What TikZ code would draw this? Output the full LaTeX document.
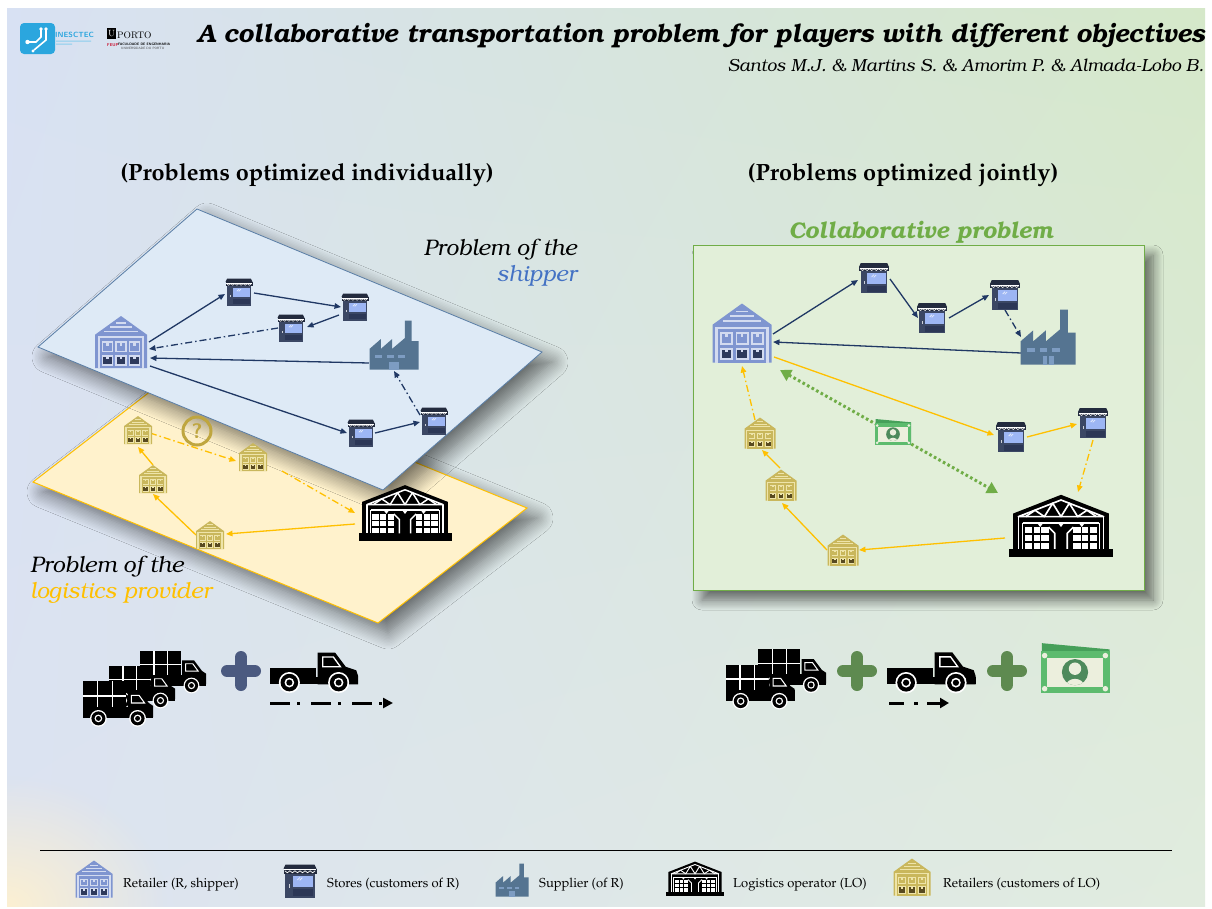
\documentclass[tikz,border=0pt]{standalone}
\usepackage[T1,TU]{fontenc}
\usetikzlibrary{arrows.meta,calc,shadows.blur,fadings,shadings}

% ---------- fonts ----------
\newcommand{\ttlfont}{\fontencoding{T1}\fontfamily{pbk}\fontseries{b}\fontshape{it}\selectfont}
\newcommand{\bkit}{\fontencoding{T1}\fontfamily{pbk}\fontseries{m}\fontshape{it}\selectfont}
\newcommand{\palup}{\fontencoding{T1}\fontfamily{ppl}\fontseries{m}\fontshape{n}\selectfont}
\newcommand{\palbf}{\fontencoding{T1}\fontfamily{ppl}\fontseries{b}\fontshape{n}\selectfont}

% ---------- colours ----------
\definecolor{bgUL}{HTML}{D8E1F3}
\definecolor{bgUR}{HTML}{D5E8C9}
\definecolor{bgLL}{HTML}{DCE3F1}
\definecolor{bgLR}{HTML}{E1ECDF}
\definecolor{glowY}{HTML}{FCF0D2}
\definecolor{planeB}{HTML}{DEEAF6}
\definecolor{planeBedge}{HTML}{5A7EA6}
\definecolor{planeY}{HTML}{FFF2CC}
\definecolor{planeYedge}{HTML}{FFC000}
\definecolor{boxG}{HTML}{E2EFD9}
\definecolor{boxGedge}{HTML}{70AD47}
\definecolor{navy}{HTML}{203864}
\definecolor{gold}{HTML}{FFC000}
\definecolor{leaf}{HTML}{70AD47}
\definecolor{shipblue}{HTML}{4472C4}
\definecolor{retMain}{HTML}{7F95D0}
\definecolor{retLight}{HTML}{D3DBF0}
\definecolor{retDark}{HTML}{2E3A5C}
\definecolor{yelMain}{HTML}{C9B75C}
\definecolor{yelLight}{HTML}{EEE4A9}
\definecolor{yelDark}{HTML}{584A20}
\definecolor{stAwn}{HTML}{232B3E}
\definecolor{stBody}{HTML}{3B4764}
\definecolor{stWin}{HTML}{9DB6F4}
\definecolor{stPanel}{HTML}{2C3756}
\definecolor{facMain}{HTML}{557491}
\definecolor{facWin}{HTML}{7D9CC2}
\definecolor{monG}{HTML}{5DBB6E}
\definecolor{monBack}{HTML}{46A05A}
\definecolor{monL}{HTML}{ECEFDD}
\definecolor{monD}{HTML}{4E8A5C}
\definecolor{plusB}{HTML}{4B5A80}
\definecolor{plusG}{HTML}{5E8A50}
\definecolor{quest}{HTML}{BFA63F}
\definecolor{inesc}{HTML}{2BA6DE}
\definecolor{feup}{HTML}{C8102E}

\tikzfading[name=glow, inner color=transparent!0, outer color=transparent!100]

% ---------- icons (drawn in a 100-unit box around a node) ----------
\newcommand{\RetIcon}[5]{%
\begin{scope}[shift={(#1)},scale=#2]
 \fill[#3] (-50,-14) -- (0,-50) -- (50,-14) -- (50,50) -- (-50,50) -- cycle;
 \fill[#4] (-10,-38) rectangle (10,-35);
 \fill[#4] (-21,-30) rectangle (21,-27);
 \fill[#4] (-32,-22) rectangle (32,-19);
 \fill[#4] (-45,-11) rectangle (45,50);
 \fill[#3] (-41,-7) rectangle (41,50);
 \foreach \bx in {-26,0,26}{%
  \fill[#4] (\bx-11,-1) rectangle (\bx+11,20);
  \fill[#3] (\bx-8,2) rectangle (\bx+8,17);
  \fill[#4] (\bx-2.5,2) rectangle (\bx+2.5,7);
  \fill[#4] (\bx-11,25) rectangle (\bx+11,46);
  \fill[#5] (\bx-8,28) rectangle (\bx+8,43);
  \fill[#4] (\bx-2.5,28) rectangle (\bx+2.5,33);
 }
\end{scope}}

\newcommand{\StoreIcon}[2]{%
\begin{scope}[shift={(#1)},scale=#2]
 \fill[stAwn] (-44,-50) -- (44,-50) -- (50,-37) -- (-50,-37) -- cycle;
 \fill[stAwn] (-50,-37) rectangle (50,-22);
 \draw[white, line width={#2*2pt}] (-48,-34) -- (48,-34);
 \draw[white, line width={#2*2pt}] (-46,-31) \foreach \i in {0,...,5}{ -- (-46+\i*15.33+7.67,-25) -- (-46+\i*15.33+15.33,-31)};
 \fill[stBody] (-44,-22) rectangle (44,50);
 \fill[stWin] (-22,-16) rectangle (39,19);
 \fill[stPanel] (-22,25) rectangle (39,45);
 \fill[white!75!stBody] (-34,10) rectangle (-30,20);
 \draw[white!70!stWin, line width={#2*2.5pt}] (-8,-3) -- (0,-11) (-1,-2) -- (7,-10);
\end{scope}}

\newcommand{\FacIcon}[2]{%
\begin{scope}[shift={(#1)},scale=#2]
 \fill[facMain] (-50,50) -- (-50,8) -- (-27,-12) -- (-27,8) -- (-4,-12) -- (-4,8) -- (22,-14)
   -- (22,-50) -- (36,-50) -- (36,-8) -- (50,-8) -- (50,50) -- cycle;
 \foreach \wx in {-38,-15,8} \fill[facWin] (\wx,20) rectangle (\wx+14,27);
 \fill[facWin] (-10,34) rectangle (-1,50);
 \fill[facWin] (1,34) rectangle (10,50);
\end{scope}}

\newcommand{\LOIcon}[2]{%
\begin{scope}[shift={(#1)},scale=#2]
 \fill[black] (-50,22) rectangle (50,30);
 \fill[black] (-46,22) -- (-46,-12) -- (0,-30) -- (46,-12) -- (46,22) -- cycle;
 \begin{scope}[white, line width={#2*1.6pt}, line join=round]
  \draw (-41,-9) -- (0,-25) -- (41,-9) -- cycle;
  \draw (-34,-9) -- (-25,-15.2) -- (-16,-9) -- (-8,-21.9) -- (0,-9) -- (8,-21.9) -- (16,-9) -- (25,-15.2) -- (34,-9);
  \draw (-41,-9) -- (-41,22) (41,-9) -- (41,22);
  \draw (-37,-3) -- (37,-3) (-37,-3) -- (-37,22) (37,-3) -- (37,22);
  \draw (-12,1) -- (-6,7) -- (-6,22) (12,1) -- (6,7) -- (6,22);
 \end{scope}
 \fill[white] (-35,1) rectangle (-12,22);
 \fill[white] (12,1) rectangle (35,22);
 \draw[black, line width={#2*1.8pt}] (-27.3,1) -- (-27.3,22) (-19.7,1) -- (-19.7,22) (-35,8) -- (-12,8) (-35,15) -- (-12,15);
 \draw[black, line width={#2*1.8pt}] (27.3,1) -- (27.3,22) (19.7,1) -- (19.7,22) (35,8) -- (12,8) (35,15) -- (12,15);
 \foreach \lx in {-20,0,20} \fill[white] (\lx-3,-3) -- (\lx+3,-3) -- (\lx,1) -- cycle;
\end{scope}}

\newcommand{\Wheel}[1]{%
 \fill[white] (#1) circle (12); \fill[black] (#1) circle (10);
 \fill[white] (#1) circle (5.5); \fill[black] (#1) circle (3.5);}

\newcommand{\TruckIcon}[2]{%
\begin{scope}[shift={(#1)},scale=#2]
 \fill[black] (-50,-31) rectangle (12,12);
 \draw[white, line width={#2*2pt}] (-29,-31) -- (-29,10) (-8,-31) -- (-8,10) (-50,-10) -- (12,-10);
 \fill[black] (14,-16) -- (32,-16) -- (44,0) -- (50,4) -- (50,20) -- (14,20) -- cycle;
 \draw[white, line width={#2*1.5pt}] (19,-11) -- (30,-11) -- (38,0) -- (19,0) -- cycle;
 \fill[black] (-50,6) rectangle (50,22);
 \Wheel{-28,22} \Wheel{28,22}
\end{scope}}

\newcommand{\PickIcon}[2]{%
\begin{scope}[shift={(#1)},scale=#2]
 \fill[black] (-50,-4) rectangle (2,14);
 \fill[black] (4,-22) -- (24,-22) -- (36,-6) -- (48,-2) -- (50,4) -- (50,14) -- (4,14) -- cycle;
 \draw[white, line width={#2*1.5pt}] (10,-17) -- (22,-17) -- (30,-6) -- (10,-6) -- cycle;
 \fill[black] (-50,6) rectangle (50,14);
 \Wheel{-28,12} \Wheel{28,12}
\end{scope}}

\newcommand{\MoneyIcon}[2]{%
\begin{scope}[shift={(#1)},scale=#2]
 \fill[monBack] (-48,-36) -- (50,-27) -- (50,30) -- (-48,30) -- cycle;
 \fill[monG] (-50,-24) rectangle (50,36);
 \fill[monL] (-41,-15) rectangle (41,27);
 \foreach \cx/\cy in {-44/-18, 44/-18, -44/30, 44/30} \fill[monL] (\cx,\cy) circle (4);
 \fill[monD] (0,6) circle (19);
 \begin{scope}
  \clip (0,6) circle (19);
  \fill[monL] (0,1) circle (9);
  \fill[monL] (-14,27) .. controls (-12,12) and (12,12) .. (14,27) -- cycle;
 \end{scope}
\end{scope}}

\newcommand{\PlusIcon}[2]{%
\begin{scope}[shift={(#1)}]
 \draw[#2, line width=12pt, line cap=round] (-14,0) -- (14,0) (0,-14) -- (0,14);
\end{scope}}

\tikzset{
 spot/.style={inner sep=0pt, minimum size=0pt},
 lbl/.style={inner sep=0pt},
 navyarr/.style={draw=navy, line width=1.3pt, -{Triangle[length=6.5pt,width=5.5pt]}},
 navydd/.style={navyarr, dash pattern=on 7pt off 3pt on 1.5pt off 3pt},
 goldarr/.style={draw=gold, line width=1.3pt, -{Triangle[length=6.5pt,width=5.5pt]}},
 golddd/.style={goldarr, dash pattern=on 7pt off 3pt on 1.5pt off 3pt},
 paydots/.style={draw=leaf, line width=3pt, dash pattern=on 2.6pt off 2.6pt,
   {Triangle[length=11pt,width=12pt]}-{Triangle[length=11pt,width=12pt]}},
 softshadow/.style={blur shadow={shadow xshift=#1pt, shadow yshift=-#1pt, shadow blur radius=16pt,
   shadow blur steps=12, shadow opacity=55}},
 legendtext/.style={lbl, anchor=base west, font=\palup\fontsize{13}{15}\selectfont},
}

\begin{document}
\begin{tikzpicture}[x=1pt,y=-1pt]
\useasboundingbox (0,0) rectangle (1212,908);
\fill[white] (0,0) rectangle (1212,908);

% ---------- background ----------
\begin{scope}
 \clip (7,8) rectangle (1205,906);
 \shade[upper left=bgUL, upper right=bgUR, lower left=bgLL, lower right=bgLR] (7,8) rectangle (1205,906);
 \fill[glowY, path fading=glow] (7,906) ellipse (160 and 130);
\end{scope}

% ---------- header ----------
\fill[inesc, rounded corners=4pt] (20,23) rectangle (55,54);
\draw[white, line width=1.6pt] (29,42) -- (36,42) -- (41,37) -- (41,30) (34,50) -- (46,40) -- (46,30);
\fill[white] (27.5,42) circle (2.2) (41,29) circle (1.8) (46,29) circle (1.8) (33,51) circle (1.6);
\node[lbl, anchor=base west, text=inesc] (inesctxt) at (55,37) {\sffamily\bfseries\fontsize{7.5}{8}\selectfont INESCTEC};
\fill[inesc!55] (56,40.5) rectangle (91,41.6) (56,43.6) rectangle (72,44.6);
\fill[black] (107,28) rectangle (116,39);
\node[lbl, text=white] (ubox) at (111.5,33.5) {\rmfamily\fontsize{9}{9}\selectfont U};
\node[lbl, anchor=base west] (porto) at (117,38.5) {\rmfamily\fontsize{9.5}{10}\selectfont PORTO};
\node[lbl, anchor=base west, text=feup] (feup) at (107,46) {\sffamily\bfseries\fontsize{4.2}{5}\selectfont FEUP};
\node[lbl, anchor=base west] (fac) at (118,45) {\sffamily\bfseries\fontsize{3.4}{4}\selectfont FACULDADE DE ENGENHARIA};
\node[lbl, anchor=base west, text=black!75] (univ) at (121,49.5) {\sffamily\fontsize{3.2}{4}\selectfont UNIVERSIDADE DO PORTO};

\node[lbl, anchor=base west] (title) at (197,42)
 {\ttlfont\fontsize{25.2}{29}\selectfont A collaborative transportation problem for players with different objectives};
\node[lbl, anchor=base east] (authors) at (1204,71)
 {\bkit\fontsize{17.5}{20}\selectfont Santos M.J. \& Martins S. \& Amorim P. \& Almada-Lobo B.};

\node[lbl, anchor=base] (headL) at (307,180) {\palbf\fontsize{23.5}{27}\selectfont (Problems optimized individually)};
\node[lbl, anchor=base] (headR) at (903,180) {\palbf\fontsize{23.5}{27}\selectfont (Problems optimized jointly)};

% ---------- left: two planes ----------
\path[softshadow=10, fill=planeY, draw=planeYedge, line width=1pt]
 (33,482) -- (182,367) -- (527,508) -- (378,623) -- cycle;
\path[softshadow=10, fill=planeB, draw=planeBedge, line width=0.8pt]
 (38,347) -- (197,209) -- (542,352) -- (383,490) -- cycle;

\node[lbl, anchor=base east] (shipA) at (577,255) {\bkit\fontsize{22.5}{26}\selectfont Problem of the};
\node[lbl, anchor=base east, text=shipblue] (shipB) at (577,281) {\bkit\fontsize{22.5}{26}\selectfont shipper};
\node[lbl, anchor=base west] (lspA) at (30,572) {\bkit\fontsize{22.5}{26}\selectfont Problem of the};
\node[lbl, anchor=base west, text=gold] (lspB) at (30,598) {\bkit\fontsize{22.5}{26}\selectfont logistics provider};

\node[spot] (rL) at (121,342) {};
\node[spot] (s1) at (239,292) {};
\node[spot] (s2) at (355,307) {};
\node[spot] (s3) at (291,328) {};
\node[spot] (fL) at (394,345) {};
\node[spot] (s4) at (361,433) {};
\node[spot] (s5) at (434,421) {};
\node[spot] (y1) at (138,430) {};
\node[spot] (y2) at (253,457) {};
\node[spot] (y3) at (153,479) {};
\node[spot] (y4) at (210,535) {};
\node[spot] (loL) at (405,513) {};
\node[spot] (qm) at (197,431) {};

% shipper routes
\draw[navyarr] ($(rL)+(28,0)$) -- ($(s1)+(-14,2)$);
\draw[navyarr] ($(s1)+(15,1)$) -- ($(s2)+(-14,0)$);
\draw[navyarr] ($(s2)+(-16,8)$) -- ($(s3)+(16,-1)$);
\draw[navydd] ($(s3)+(-13,0)$) -- ($(rL)+(28,7)$);
\draw[navyarr] ($(fL)+(-25,18)$) -- ($(rL)+(29,16)$);
\draw[navyarr] ($(rL)+(29,24)$) -- ($(s4)+(-14,0)$);
\draw[navyarr] ($(s4)+(14,0)$) -- ($(s5)+(-14,1)$);
\draw[navydd] ($(s5)+(-14,-6)$) -- ($(fL)+(0,26)$);

% logistics provider routes
\draw[golddd] ($(y1)+(12,3)$) -- ($(y2)+(-17,4)$);
\draw[golddd] ($(y2)+(29,14)$) -- ($(loL)+(-50,0)$);
\draw[goldarr] ($(loL)+(-50,11)$) -- ($(y4)+(16,-1)$);
\draw[goldarr] ($(y4)+(-14,0)$) -- ($(y3)+(0,15)$);
\draw[goldarr] ($(y3)+(0,-14)$) -- ($(y1)+(0,17)$);

\RetIcon{rL}{0.52}{retMain}{retLight}{retDark}
\StoreIcon{s1}{0.27}
\StoreIcon{s2}{0.27}
\StoreIcon{s3}{0.27}
\StoreIcon{s4}{0.27}
\StoreIcon{s5}{0.27}
\FacIcon{fL}{0.49}
\RetIcon{y1}{0.28}{yelMain}{yelLight}{yelDark}
\RetIcon{y2}{0.28}{yelMain}{yelLight}{yelDark}
\RetIcon{y3}{0.28}{yelMain}{yelLight}{yelDark}
\RetIcon{y4}{0.28}{yelMain}{yelLight}{yelDark}
\LOIcon{loL}{0.93}
\draw[quest, line width=3pt] (qm) circle (14);
\node[lbl, text=quest] (qmark) at (qm) {\sffamily\bfseries\fontsize{21}{21}\selectfont ?};

% ---------- right: collaborative problem ----------
\node[lbl, anchor=base, text=leaf] (collab) at (921,238) {\ttlfont\fontsize{22.7}{27}\selectfont Collaborative problem};
\path[blur shadow={shadow xshift=9pt, shadow yshift=-10pt, shadow blur radius=10pt, shadow blur steps=10, shadow opacity=55},
 fill=boxG, draw=boxGedge, line width=1pt] (693,245) rectangle (1144,590);

\node[spot] (rR) at (742,333) {};
\node[spot] (sa) at (874,278) {};
\node[spot] (sb) at (932,318) {};
\node[spot] (sc) at (1005,295) {};
\node[spot] (fR) at (1048,337) {};
\node[spot] (sd) at (1011,437) {};
\node[spot] (se) at (1093,423) {};
\node[spot] (loR) at (1061,526) {};
\node[spot] (ya) at (760,433) {};
\node[spot] (yb) at (781,485) {};
\node[spot] (yc) at (843,550) {};
\node[spot] (cash) at (893,432) {};

\draw[paydots] ($(rR)+(38,37)$) -- ($(loR)+(-63,-33)$);
\draw[navyarr] ($(rR)+(31,1)$) -- ($(sa)+(-16,2)$);
\draw[navyarr] ($(sa)+(16,1)$) -- ($(sb)+(-14,0)$);
\draw[navyarr] ($(sb)+(17,0)$) -- ($(sc)+(-16,0)$);
\draw[navydd] ($(sc)+(0,15)$) -- ($(fR)+(-27,0)$);
\draw[navyarr] ($(fR)+(-27,16)$) -- ($(rR)+(31,9)$);
\draw[goldarr] ($(rR)+(32,24)$) -- ($(sd)+(-17,-2)$);
\draw[goldarr] ($(sd)+(16,0)$) -- ($(se)+(-16,1)$);
\draw[golddd] ($(se)+(0,17)$) -- ($(loR)+(17,-34)$);
\draw[goldarr] ($(loR)+(-56,12)$) -- ($(yc)+(16,0)$);
\draw[goldarr] ($(yc)+(-16,0)$) -- ($(yb)+(1,18)$);
\draw[goldarr] ($(yb)+(-1,-17)$) -- ($(ya)+(2,17)$);
\draw[golddd] ($(ya)+(-5,-13)$) -- ($(rR)+(0,33)$);

\RetIcon{rR}{0.59}{retMain}{retLight}{retDark}
\StoreIcon{sa}{0.30}
\StoreIcon{sb}{0.30}
\StoreIcon{sc}{0.30}
\StoreIcon{sd}{0.30}
\StoreIcon{se}{0.30}
\FacIcon{fR}{0.55}
\LOIcon{loR}{1.04}
\RetIcon{ya}{0.31}{yelMain}{yelLight}{yelDark}
\RetIcon{yb}{0.31}{yelMain}{yelLight}{yelDark}
\RetIcon{yc}{0.31}{yelMain}{yelLight}{yelDark}
\MoneyIcon{cash}{0.36}

% ---------- fleets and costs ----------
\node[spot] (tb1) at (173,671) {};
\node[spot] (tb2) at (142,686) {};
\node[spot] (tb3) at (118,703) {};
\node[spot] (plusL) at (241,671) {};
\node[spot] (pkL) at (314,672) {};
\coordinate (arL1) at (270,703);
\coordinate (arL2) at (393,703);
\TruckIcon{tb1}{0.66}
\TruckIcon{tb2}{0.66}
\TruckIcon{tb3}{0.70}
\PlusIcon{plusL}{plusB}
\PickIcon{pkL}{0.88}
\draw[black, line width=3pt, dash pattern=on 20pt off 7pt on 3pt off 11pt, -{Triangle[length=10pt,width=10pt]}] (arL1) -- (arL2);

\node[spot] (tr1) at (792,670) {};
\node[spot] (tr2) at (760,686) {};
\node[spot] (plusR1) at (857,671) {};
\node[spot] (pkR) at (931,672) {};
\node[spot] (plusR2) at (1007,671) {};
\node[spot] (cashB) at (1075,668) {};
\coordinate (arR1) at (889,703);
\coordinate (arR2) at (949,703);
\TruckIcon{tr1}{0.68}
\TruckIcon{tr2}{0.69}
\PlusIcon{plusR1}{plusG}
\PickIcon{pkR}{0.89}
\draw[black, line width=3pt, dash pattern=on 15pt off 10pt on 4pt off 9pt, -{Triangle[length=9pt,width=10pt]}] (arR1) -- (arR2);
\PlusIcon{plusR2}{plusG}
\MoneyIcon{cashB}{0.69}

% ---------- legend ----------
\coordinate (sepL) at (40,850);
\coordinate (sepR) at (1172,850);
\draw[black, line width=0.8pt] (sepL) -- (sepR);

\node[spot] (lgR) at (94,879) {};
\node[spot] (lgS) at (300,881) {};
\node[spot] (lgF) at (512,880) {};
\node[spot] (lgL) at (695,879) {};
\node[spot] (lgY) at (912,877) {};
\RetIcon{lgR}{0.37}{retMain}{retLight}{retDark}
\StoreIcon{lgS}{0.33}
\FacIcon{lgF}{0.33}
\LOIcon{lgL}{0.58}
\RetIcon{lgY}{0.37}{yelMain}{yelLight}{yelDark}
\node[legendtext] (lgRt) at (123,887) {Retailer (R, shipper)};
\node[legendtext] (lgSt) at (327,887) {Stores (customers of R)};
\node[legendtext] (lgFt) at (539,887) {Supplier (of R)};
\node[legendtext] (lgLt) at (733,887) {Logistics operator (LO)};
\node[legendtext] (lgYt) at (943,887) {Retailers (customers of LO)};
\end{tikzpicture}
\end{document}
